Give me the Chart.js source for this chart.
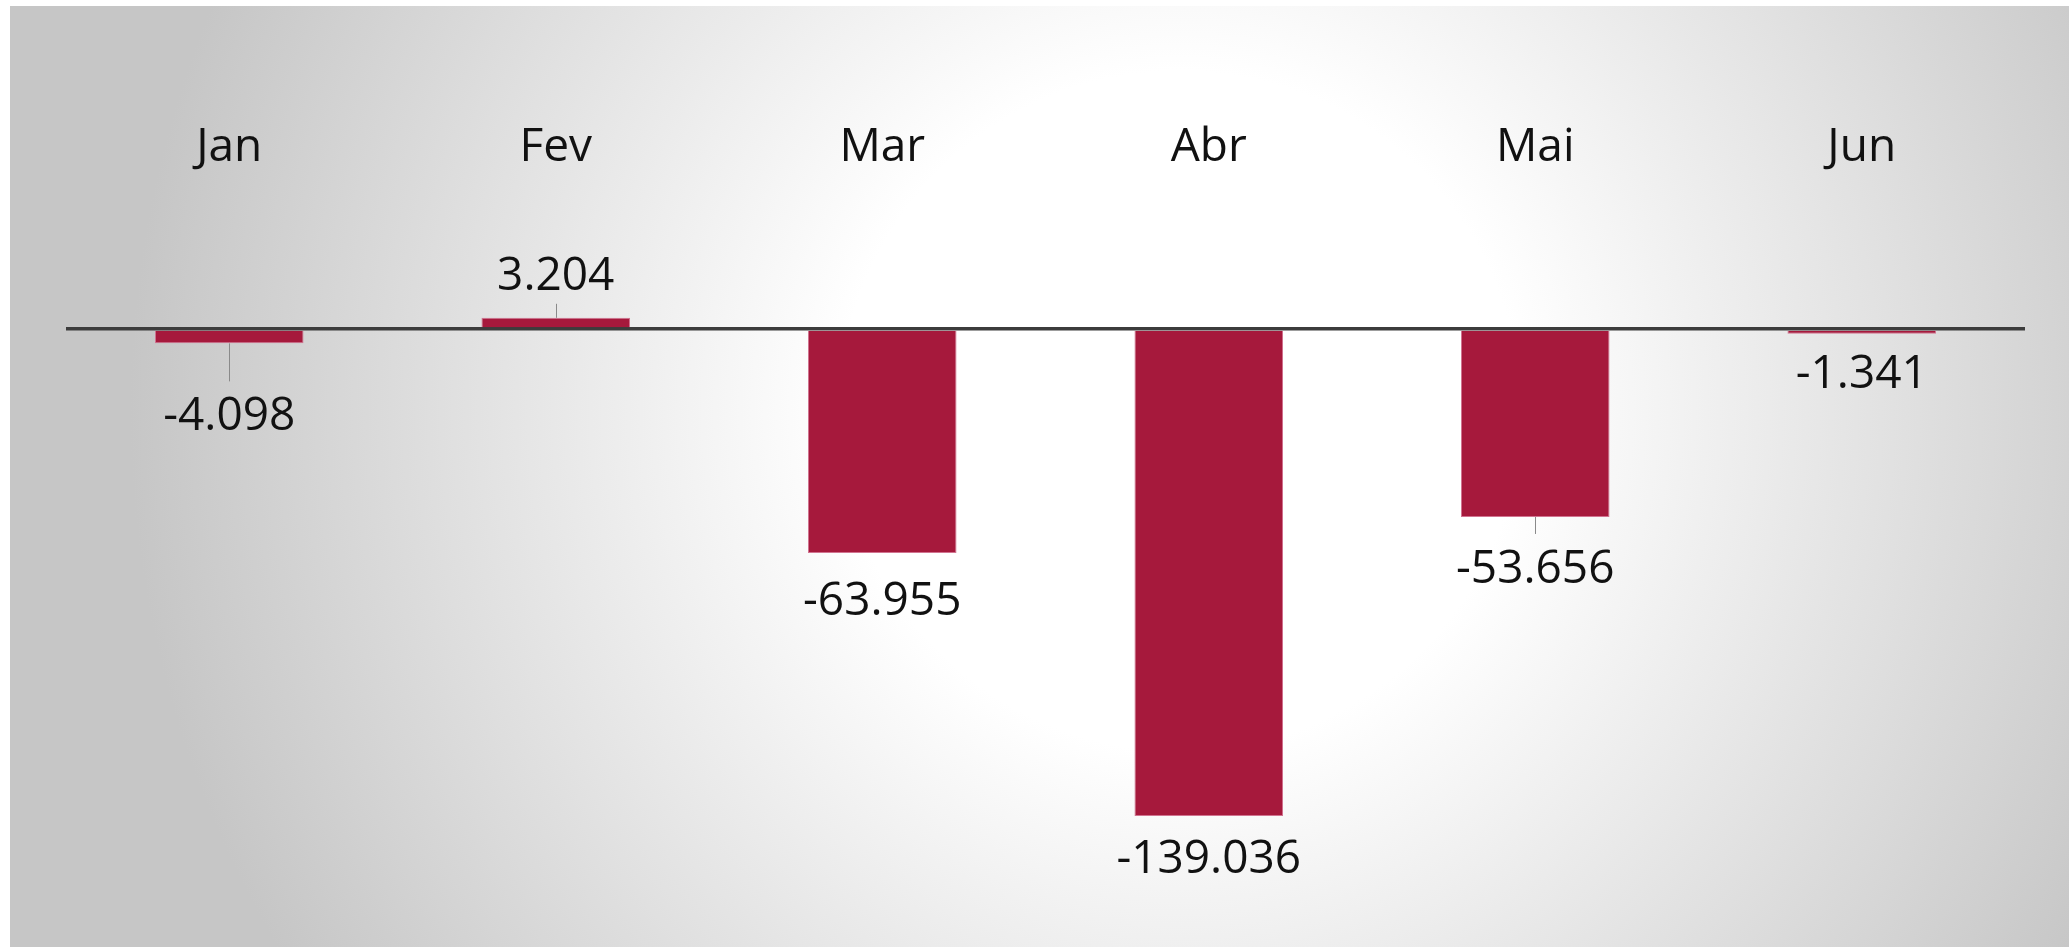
<!DOCTYPE html>
<html lang="pt-BR">
<head>
<meta charset="utf-8">
<title>Saldo mensal</title>
<script src="https://cdn.jsdelivr.net/npm/chart.js@4.4.1/dist/chart.umd.min.js"></script>
<style>
  html, body { margin: 0; padding: 0; background: #fff; overflow: hidden; }
  #panel {
    position: absolute; left: 10px; top: 6px; width: 2059px; height: 941px;
    background: radial-gradient(circle 1050px at 1170px 405px, #ffffff 0px, #ffffff 340px, #c6c6c6 1050px);
  }
  #chart { position: absolute; left: 0; top: 0; }
</style>
</head>
<body>
<div id="panel"></div>
<canvas id="chart" width="2069" height="947"></canvas>
<script>
// ---- Data ----
const months = ["Jan", "Fev", "Mar", "Abr", "Mai", "Jun"];
const saldo = [-4098, 3204, -63955, -139036, -53656, -1341];
const yMin = -170000;
const yMax = 40000;

// label placement (px from bar end to text baseline) and leader lines
const labelOffset = [87, 28, 62, 57, 66, 54];
const showLeader = [true, true, false, false, true, false];

const FONT = "'Open Sans', 'Liberation Sans', sans-serif";
const CAP = 33;

// pt-BR style thousands separator
function fmtSaldo(v) {
  const s = Math.abs(v).toString().replace(/\B(?=(\d{3})+(?!\d))/g, ".");
  return (v < 0 ? "-" : "") + s;
}

const valueLabels = {
  id: "valueLabels",
  afterDraw(chart) {
    const ctx = chart.ctx;
    const meta = chart.getDatasetMeta(0);
    ctx.save();
    ctx.font = `46px ${FONT}`;
    ctx.textAlign = "center";
    ctx.textBaseline = "alphabetic";
    meta.data.forEach((bar, i) => {
      const v = saldo[i];
      const x = bar.x;
      const end = bar.y;
      let base;
      if (v < 0) {
        base = end + labelOffset[i];
        if (showLeader[i]) {
          ctx.strokeStyle = "#8a8a8a";
          ctx.lineWidth = 1;
          ctx.beginPath();
          ctx.moveTo(Math.round(x) + 0.5, end);
          ctx.lineTo(Math.round(x) + 0.5, base - CAP - 16);
          ctx.stroke();
        }
      } else {
        base = end - labelOffset[i];
        if (showLeader[i]) {
          ctx.strokeStyle = "#8a8a8a";
          ctx.lineWidth = 1;
          ctx.beginPath();
          ctx.moveTo(Math.round(x) + 0.5, end);
          ctx.lineTo(Math.round(x) + 0.5, base + 14);
          ctx.stroke();
        }
      }
      ctx.fillStyle = "#111";
      ctx.fillText(fmtSaldo(v), x, base);
    });
    ctx.restore();
  },
};

new Chart(document.getElementById("chart"), {
  type: "bar",
  data: {
    labels: months,
    datasets: [{
      data: saldo,
      backgroundColor: "#a6193c",
      borderColor: "#d17390",
      borderWidth: 1,
      categoryPercentage: 1,
      barPercentage: 0.455,
    }],
  },
  options: {
    responsive: false,
    devicePixelRatio: 1,
    animation: false,
    layout: { padding: { left: 66, right: 44, top: 106.5, bottom: 22.5 } },
    plugins: { legend: { display: false }, tooltip: { enabled: false } },
    scales: {
      x: {
        position: "top",
        grid: { display: false, drawTicks: false },
        border: { display: false },
        ticks: { color: "#111", padding: 13.6, font: { family: FONT, size: 46 } },
      },
      y: {
        min: yMin,
        max: yMax,
        z: 1,
        border: { display: false },
        ticks: { display: false, stepSize: 10000 },
        grid: {
          drawTicks: false,
          lineWidth: 3.5,
          color: (c) => (c.tick && c.tick.value === 0 ? "#3c3c3c" : "rgba(0,0,0,0)"),
        },
      },
    },
  },
  plugins: [valueLabels],
});
</script>
</body>
</html>
